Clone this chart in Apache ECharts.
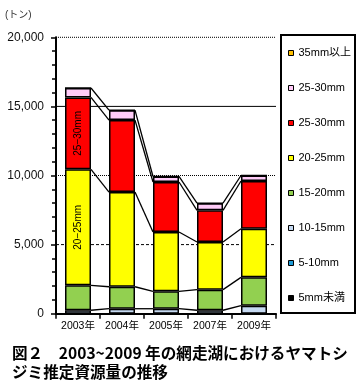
<!DOCTYPE html>
<html>
<head>
<meta charset="utf-8">
<script src="https://cdn.jsdelivr.net/npm/echarts@6/dist/echarts.min.js"></script>
<style>
html,body{margin:0;padding:0;background:#fff;}
#c{width:363px;height:385px;}
</style>
</head>
<body>
<div id="c"></div>
<script>
const categories = ['2003年', '2004年', '2005年', '2007年', '2009年'];
const yTickValues = [0, 5000, 10000, 15000, 20000];
// stack order bottom -> top
const s5under = [0, 0, 0, 0, 0];
const s5to10 = [0, 0, 0, 0, 0];
const s10to15 = [250, 360, 360, 250, 580];
const s15to20 = [1800, 1590, 1260, 1490, 2050];
const s20to25 = [8400, 6850, 4290, 3450, 3520];
const s25to30 = [5200, 5210, 3620, 2290, 3450];
const s30to35 = [680, 720, 400, 520, 400];
const s35up = [0, 0, 0, 0, 0];
// legend (top -> bottom) series keys and displayed texts
const legendKeys = ['35mm以上', '30-35mm', '25-30mm', '20-25mm', '15-20mm', '10-15mm', '5-10mm', '5mm未満'];
const legendTexts = ['35mm以上', '25-30mm', '25-30mm', '20-25mm', '15-20mm', '10-15mm', '5-10mm', '5mm未満'];
// gridline values and dash styles
const gridValues = [20000, 15000, 10000, 5000];
const gridDash = [[1, 1], null, [1, 1], [3, 2]];

const FONT = '"Liberation Sans", "Noto Sans CJK JP", sans-serif';
const BAR_W = 26;

const stackDefs = [
  {name: '5mm未満', data: s5under, color: '#000000'},
  {name: '5-10mm', data: s5to10, color: '#1E9BD7'},
  {name: '10-15mm', data: s10to15, color: '#C5D9F1'},
  {name: '15-20mm', data: s15to20, color: '#92D050'},
  {name: '20-25mm', data: s20to25, color: '#FFFF00', label: '20−25mm'},
  {name: '25-30mm', data: s25to30, color: '#FF0000', label: '25−30mm'},
  {name: '30-35mm', data: s30to35, color: '#FFCCF8'},
  {name: '35mm以上', data: s35up, color: '#FFC000'}
];

const barSeries = stackDefs.map(d => ({
  name: d.name,
  type: 'bar',
  stack: 'total',
  barWidth: BAR_W,
  z: 5,
  itemStyle: {color: d.color, borderColor: '#000', borderWidth: 1.5},
  data: d.data.map((v, i) => (d.label && i === 0) ? {
    value: v,
    label: {show: true, position: 'inside', rotate: 90, formatter: d.label,
      fontSize: 10, color: '#000', fontFamily: FONT}
  } : v)
}));

// series lines between bars (cumulative tops)
const lineData = [];
const cum = categories.map(() => 0);
stackDefs.forEach(d => {
  d.data.forEach((v, i) => { cum[i] += v; });
  if (d.data.some(v => v > 0)) {
    for (let i = 0; i < categories.length - 1; i++) {
      lineData.push([i, cum[i], cum[i + 1]]);
    }
  }
});

const chart = echarts.init(document.getElementById('c'), null, {renderer: 'canvas'});
chart.setOption({
  animation: false,
  backgroundColor: '#fff',
  grid: {left: 56, top: 37.3, width: 220, height: 276.4, containLabel: false},
  xAxis: {
    type: 'category',
    data: categories,
    axisLine: {lineStyle: {color: '#000', width: 2}},
    axisTick: {show: true, length: 5, lineStyle: {color: '#000', width: 1.5}},
    axisLabel: {color: '#000', fontSize: 10.5, margin: 7, interval: 0, fontFamily: FONT}
  },
  yAxis: {
    type: 'value',
    min: 0, max: 20000, interval: 5000,
    axisLine: {show: true, lineStyle: {color: '#000', width: 2}},
    axisTick: {show: true, length: 5, lineStyle: {color: '#000', width: 1.5}},
    minorTick: {show: true, splitNumber: 5, length: 4, lineStyle: {color: '#000', width: 1.5}},
    splitLine: {show: false},
    axisLabel: {
      color: '#111', fontSize: 12, margin: 12, fontFamily: FONT,
      formatter: v => yTickValues.includes(v) ? v.toLocaleString('en-US') : ''
    }
  },
  legend: {
    orient: 'vertical',
    left: 288, top: 46,
    padding: 0,
    itemWidth: 5, itemHeight: 5, itemGap: 21,
    icon: 'rect',
    itemStyle: {borderColor: '#000', borderWidth: 1},
    textStyle: {fontSize: 11, lineHeight: 14, color: '#000', fontFamily: FONT},
    data: legendKeys,
    formatter: name => legendTexts[legendKeys.indexOf(name)],
    selectedMode: false
  },
  graphic: [
    {type: 'rect', z: 0, shape: {x: 281, y: 35, width: 74, height: 278},
      style: {fill: '#fff', stroke: '#000', lineWidth: 2}},
    {type: 'text', left: 5, top: 10,
      style: {text: '(トン)', fontSize: 10, fill: '#333', fontFamily: FONT}},
    {type: 'text', left: 12, top: 345,
      style: {text: '図２　2003~2009 年の網走湖におけるヤマトシ', fontSize: 15.6, fontWeight: 'bold',
        fill: '#000', fontFamily: '"Noto Sans CJK JP", sans-serif'}},
    {type: 'text', left: 12, top: 364,
      style: {text: 'ジミ推定資源量の推移', fontSize: 15.6, fontWeight: 'bold',
        fill: '#000', fontFamily: '"Noto Sans CJK JP", sans-serif'}}
  ],
  series: [
    {
      type: 'custom',
      name: 'gridlines',
      z: 1,
      silent: true,
      encode: {y: 0},
      data: gridValues.map((v, k) => [v, k]),
      renderItem: (params, api) => {
        const v = api.value(0);
        const k = api.value(1);
        const y = api.coord([0, v])[1];
        const x0 = params.coordSys.x;
        const x1 = x0 + params.coordSys.width;
        const dash = gridDash[k];
        return {type: 'line', shape: {x1: x0, y1: y, x2: x1, y2: y},
          style: {stroke: '#000', lineWidth: 1, lineDash: dash || null}};
      }
    },
    {
      type: 'custom',
      name: 'serieslines',
      z: 2,
      silent: true,
      encode: {x: 0, y: 1},
      data: lineData,
      renderItem: (params, api) => {
        const i = api.value(0);
        const p0 = api.coord([i, api.value(1)]);
        const p1 = api.coord([i + 1, api.value(2)]);
        const hw = BAR_W / 2;
        return {type: 'line', shape: {x1: p0[0] + hw, y1: p0[1], x2: p1[0] - hw, y2: p1[1]},
          style: {stroke: '#000', lineWidth: 1.3}};
      }
    }
  ].concat(barSeries)
});
</script>
</body>
</html>
